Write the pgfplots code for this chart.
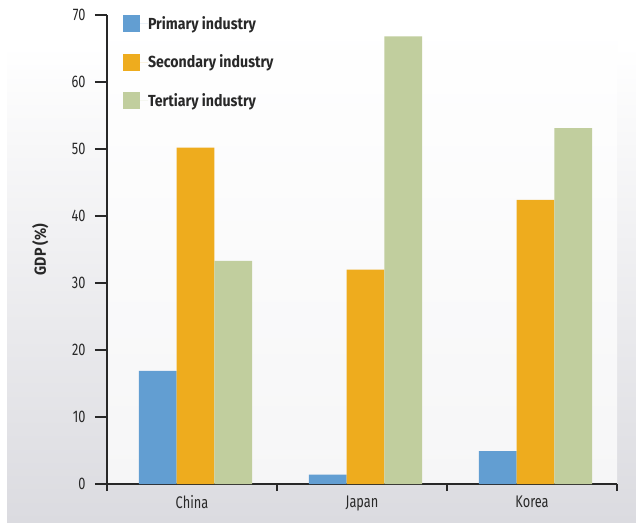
\documentclass[border=0pt]{standalone}
\usepackage{fontspec}
\setmainfont{Fira Sans}[FakeStretch=0.76]
\newfontfamily\legfont{Fira Sans}[FakeStretch=0.885,UprightFont=*-Bold]
\usepackage{pgfplots}
\pgfplotsset{compat=1.18}
\definecolor{primcol}{RGB}{98,158,210}
\definecolor{seccol}{RGB}{238,172,30}
\definecolor{tercol}{RGB}{193,206,158}
\definecolor{axcol}{RGB}{40,40,40}
\definecolor{panelbot}{RGB}{219,219,224}
\definecolor{plotbot}{RGB}{246,246,247}

% GDP shares by sector (percent)
\pgfplotstableread{
idx primary secondary tertiary
0   16.9    50.2      33.3
1   1.4     32.0      66.8
2   4.9     42.4      53.1
}\gdpdata

\begin{document}
\begin{tikzpicture}[x=1pt,y=1pt]
  \fill[white] (0,0) rectangle (636,522);
  \path[use as bounding box] (0,0) rectangle (636,522);
  \shade[top color=white, bottom color=panelbot] (7,0) rectangle (636,477);
  \begin{axis}[
    at={(107pt,38pt)}, anchor=south west,
    scale only axis, width=510pt, height=469pt,
    xmin=-0.5, xmax=2.5, ymin=0, ymax=70,
    axis background/.style={shade, top color=white, bottom color=plotbot},
    axis x line*=bottom, axis y line*=left,
    axis line style={draw=axcol, line width=1.3pt},
    every tick/.style={draw=axcol, line width=1.3pt},
    tick align=outside,
    ytick={0,10,...,70},
    major tick length=12pt,
    xtick={0,1,2},
    xticklabels={China,Japan,Korea},
    major x tick style={draw=none},
    minor xtick={-0.5,0.5,1.5,2.5},
    minor tick length=7pt,
    /pgf/number format/assume math mode=true,
    ticklabel style={font=\fontsize{16.8}{18}\selectfont, text=axcol},
    xticklabel style={yshift=4pt},
    yticklabel style={xshift=-6pt},
    ylabel={GDP (\%)},
    every axis y label/.style={at={(axis description cs:-0.131,0.5)}, rotate=90, anchor=center,
      font=\legfont\fontsize{16}{18}\selectfont, text=axcol},
    ybar, bar width=37.7pt,
    legend style={at={(axis description cs:0.031,1)}, anchor=north west,
      draw=none, fill=none, inner sep=0pt, row sep=21.5pt,
      nodes={inner sep=0pt, text height=14pt, text depth=3pt, text=axcol},
      font=\legfont\fontsize{16}{18}\selectfont},
    legend cell align=left,
    legend image code/.code={%
      \fill[#1] (0pt,-8.5pt) rectangle (17pt,8.5pt);
      \path (0pt,0pt) -- (25pt,0pt);},
  ]
    \addplot[fill=primcol, draw=none, bar shift=-34.2pt] table[x=idx, y=primary] {\gdpdata};
    \addplot[fill=seccol, draw=none, bar shift=3.5pt] table[x=idx, y=secondary] {\gdpdata};
    \addplot[fill=tercol, draw=none, bar shift=41.2pt] table[x=idx, y=tertiary] {\gdpdata};
    \legend{Primary industry, Secondary industry, Tertiary industry}
  \end{axis}
\end{tikzpicture}
\end{document}
